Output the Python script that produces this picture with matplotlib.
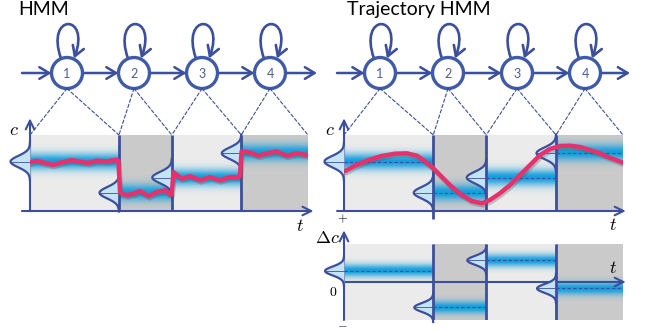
import numpy as np
import matplotlib.pyplot as plt
import matplotlib.patheffects as pe
from matplotlib.patches import Circle, FancyArrowPatch, ConnectionPatch
from matplotlib.path import Path

plt.rcParams['mathtext.fontset'] = 'cm'

# segment boundaries (time, 0..100) and per-state statistics
bounds = [0, 32, 51, 76, 100]
state_mean = [6.5, 2.4, 4.4, 7.6]
delta_mean = [1.45, -3.35, 2.85, -0.85]
state_labels = ['1', '2', '3', '4']

# piecewise-constant (noisy) HMM output
hmm_t = [0, 2.4, 5.4, 8.4, 11.4, 15.0, 18.0, 21.0, 24.0, 27.6, 31.2, 31.8,
         32.4, 34.8, 37.2, 39.6, 42.6, 45.6, 48.6, 50.6, 51.0,
         51.6, 54.6, 57.6, 61.2, 64.7, 68.3, 71.9, 74.9, 75.5,
         76.1, 79.1, 82.1, 85.1, 88.7, 92.3, 95.9, 100]
hmm_c = [6.4, 6.62, 6.32, 6.06, 6.4, 6.71, 6.49, 6.32, 6.62, 6.54, 6.75, 6.6,
         2.38, 2.08, 2.29, 2.64, 1.95, 2.51, 2.73, 2.1, 2.3,
         5.11, 4.24, 4.59, 4.03, 4.46, 4.03, 4.46, 4.46, 4.6,
         7.84, 7.71, 7.27, 7.58, 7.84, 7.27, 7.58, 7.36]

# smooth trajectory HMM output
traj_t = [0.4, 3.9, 8.7, 13.5, 18.3, 22.5, 26.1, 29.0, 32.0, 35.0, 38.6, 42.2,
          45.8, 49.4, 52.3, 55.9, 59.5, 63.1, 66.7, 70.3, 73.8, 77.4, 81.0,
          84.6, 88.2, 91.8, 95.3, 100]
traj_c = [5.26, 5.96, 6.71, 7.24, 7.54, 7.59, 7.28, 6.58, 5.62, 4.51, 3.20, 2.11,
          1.32, 1.01, 1.45, 2.33, 3.42, 4.74, 6.05, 7.37, 8.16, 8.55, 8.59,
          8.42, 8.03, 7.59, 7.01, 6.36]

NAVY = '#3c4f9c'
RING = '#3f5aa8'
LIGHTBLUE = '#c4e4f6'
GRAYS = ['#ebebeb', '#cacaca']
RED = '#e7316c'
BAND = np.array([0.07, 0.62, 0.87])

W, H = 646, 331
fig = plt.figure(figsize=(W / 100, H / 100), dpi=100)


def panel(x0, x1, y0, y1, ylim):
    ax = fig.add_axes([x0 / W, 1 - y1 / H, (x1 - x0) / W, (y1 - y0) / H])
    ax.set_xlim(0, 100)
    ax.set_ylim(*ylim)
    ax.axis('off')
    return ax


def arrow(ax, p0, p1, lw=1.5):
    ax.annotate('', xy=p1, xytext=p0, annotation_clip=False,
                arrowprops=dict(arrowstyle='->,head_length=0.45,head_width=0.22',
                                mutation_scale=14, color=NAVY, lw=lw,
                                shrinkA=0, shrinkB=0))


def draw_states(ax, means, sd, amp, lo, hi, dashed):
    for k in range(4):
        t0, t1, mu = bounds[k], bounds[k + 1], means[k]
        ax.axvspan(t0, t1, ymin=0, ymax=1, color=GRAYS[k % 2], lw=0, zorder=0)
        yy = np.linspace(-3, 3, 80)
        img = np.zeros((80, 2, 4))
        img[..., :3] = BAND
        img[..., 3] = np.exp(-0.5 * yy ** 2)[:, None]
        ax.imshow(img, extent=[t0, t1, mu - 3 * sd, mu + 3 * sd], aspect='auto',
                  interpolation='bilinear', zorder=1)
        if dashed:
            ax.plot([t0, t1], [mu, mu], ls=(0, (3, 2)), lw=0.8, color=NAVY, zorder=3)
        cc = np.linspace(mu - 3.3 * sd, mu + 3.3 * sd, 100)
        xx = t0 - amp * np.exp(-0.5 * ((cc - mu) / sd) ** 2)
        ax.fill_betweenx(cc, xx, t0, color=LIGHTBLUE, lw=0, zorder=4, clip_on=False)
        ax.plot(xx, cc, color=NAVY, lw=1.6, zorder=5, clip_on=False)
        ax.plot([t0 - amp, t0], [mu, mu], color=NAVY, lw=0.6, zorder=5, clip_on=False)
    for b in bounds[1:4]:
        ax.plot([b, b], [lo, hi], color=NAVY, lw=2, zorder=6, solid_capstyle='butt')
    ax.set_xlim(0, 100)


red_style = dict(color=RED, lw=3.2, zorder=7, solid_capstyle='round', solid_joinstyle='round',
                 path_effects=[pe.SimpleLineShadow(offset=(0.8, -1.6), alpha=0.3,
                                                   shadow_color='#555555'), pe.Normal()])

# HMM panel
ax_hmm = panel(30, 308, 135, 211, (0, 10))
draw_states(ax_hmm, state_mean, 0.75, 7.0, 0, 10, False)
ax_hmm.set_ylim(0, 10)
ax_hmm.plot(hmm_t, hmm_c, **red_style)
arrow(ax_hmm, (0, 0), (0, 12.2))
arrow(ax_hmm, (-2.9, 0), (102, 0))

# trajectory HMM panel
ax_traj = panel(344, 623, 135, 211, (0, 10))
draw_states(ax_traj, state_mean, 0.75, 7.0, 0, 10, True)
ax_traj.set_ylim(0, 10)
ax_traj.plot([bounds[1]] * 2, [0, -1.05], color=NAVY, lw=2, zorder=6, clip_on=False,
             solid_capstyle='butt')
ax_traj.plot(traj_t, traj_c, **red_style)
arrow(ax_traj, (0, 0), (0, 12.2))
arrow(ax_traj, (-2.5, 0), (101, 0))

# delta panel
ax_delta = panel(344, 623, 244, 320, (-5, 5))
draw_states(ax_delta, delta_mean, 0.58, 6.8, -5, 5, True)
ax_delta.set_ylim(-5, 5)
arrow(ax_delta, (0, -5), (0, 6.8))
arrow(ax_delta, (0, 0), (101, 0))

# state diagrams, titles and axis labels on a pixel-space overlay
ov = fig.add_axes([0, 0, 1, 1])
ov.set_xlim(0, W)
ov.set_ylim(H, 0)
ov.axis('off')
ov.patch.set_visible(False)

node_y, r = 73, 15.5
for nodes_x, ax_p, x_in, x_out in [([67, 134, 202, 270], ax_hmm, 22, 317),
                                  ([380, 448, 517, 585], ax_traj, 337, 630)]:
    chain = [x_in] + nodes_x + [x_out]
    for a, b in zip(chain[:-1], chain[1:]):
        xa = a + r if a in nodes_x else a
        xb = b - r if b in nodes_x else b
        ov.add_patch(FancyArrowPatch((xa, node_y), (xb, node_y), lw=1.8, color=NAVY,
                                     arrowstyle='->,head_length=0.5,head_width=0.3',
                                     mutation_scale=14, shrinkA=0, shrinkB=0))
    for k, cx in enumerate(nodes_x):
        loop = Path([(cx - 6, node_y - 14.5), (cx - 22, 13), (cx + 24, 13), (cx + 7, node_y - 14.5)],
                    [Path.MOVETO, Path.CURVE4, Path.CURVE4, Path.CURVE4])
        ov.add_patch(FancyArrowPatch(path=loop, lw=1.9, color=NAVY,
                                     arrowstyle='->,head_length=0.5,head_width=0.3',
                                     mutation_scale=14))
        ov.add_patch(Circle((cx, node_y), r, facecolor='white', edgecolor=RING, lw=2.4, zorder=5))
        ov.text(cx, node_y + 1, state_labels[k], ha='center', va='center', fontsize=9,
                color='#4a5b9c', family='Lato', zorder=6)
        for b in (bounds[k], bounds[k + 1]):
            fig.add_artist(ConnectionPatch((cx, node_y + r), (b, 10), coordsA=ov.transData,
                                           coordsB=ax_p.transData, color=NAVY, lw=0.8,
                                           ls=(0, (3, 2))))

ov.text(18, 15, 'HMM', fontsize=14, family='Lato', va='baseline')
ov.text(347, 15, 'Trajectory HMM', fontsize=14, family='Lato', va='baseline')

lab = dict(fontsize=13, ha='center', va='center')
ov.text(14, 130, '$c$', **lab)
ov.text(300, 226, '$t$', **lab)
ov.text(330, 130, '$c$', **lab)
ov.text(613, 225, '$t$', **lab)
ov.text(613, 268, '$t$', **lab)
ov.text(327, 238, r'$\Delta c$', **lab)
ov.text(333, 292, '$0$', fontsize=10, ha='center', va='center')
ov.text(343, 219, '$+$', fontsize=9, ha='center', va='center')
ov.text(342, 325, '$-$', fontsize=9, ha='center', va='center')

fig.savefig('out.png', dpi=100)
